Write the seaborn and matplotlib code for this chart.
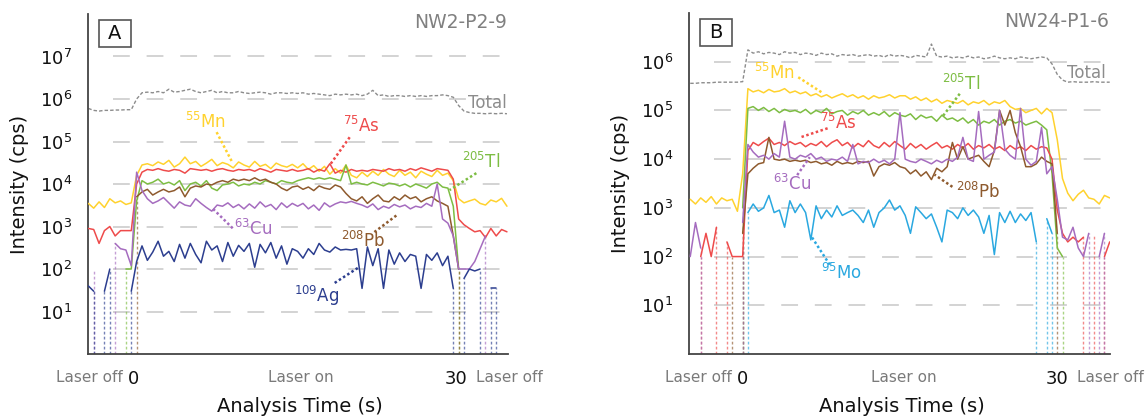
import numpy as np
import pandas as pd
import matplotlib
matplotlib.use("Agg")
import matplotlib.pyplot as plt
from matplotlib.patches import Rectangle
from matplotlib.ticker import NullLocator
import seaborn as sns

sns.set_theme(style="white")
plt.rcParams["font.family"] = ["DejaVu Sans"]
plt.rcParams["mathtext.fontset"] = "dejavusans"

# ---------------------------------------------------------------------------
# Acquisition grids (s): 0.5 s sweeps, laser fires from 0 to 30 s
# ---------------------------------------------------------------------------
STEP = 0.5
time_a = -4.25 + STEP * np.arange(79)
time_b = -5.0 + STEP * np.arange(81)

# ---------------------------------------------------------------------------
# NW2-P2-9 (panel A) – counts per second, 0 = below detection
# ---------------------------------------------------------------------------
total_a = [6.0e5, 5.4e5, 5.2e5, 5.4e5, 5.4e5, 5.5e5, 5.5e5, 5.6e5, 5.6e5,
           1.0e6, 1.4e6, 1.45e6, 1.4e6, 1.5e6, 1.4e6, 1.7e6, 1.45e6, 1.5e6, 1.6e6,
           1.7e6, 1.5e6, 1.4e6, 1.5e6, 1.6e6, 1.4e6, 1.5e6, 1.4e6, 1.4e6, 1.5e6,
           1.4e6, 1.35e6, 1.4e6, 1.45e6, 1.4e6, 1.3e6, 1.4e6, 1.4e6, 1.35e6, 1.4e6,
           1.35e6, 1.4e6, 1.3e6, 1.35e6, 1.3e6, 1.25e6, 1.2e6, 1.3e6, 1.25e6, 1.3e6,
           1.25e6, 1.3e6, 1.2e6, 1.3e6, 1.6e6, 1.2e6, 1.25e6, 1.15e6, 1.2e6, 1.2e6,
           1.15e6, 1.2e6, 1.15e6, 1.2e6, 1.15e6, 1.2e6, 1.2e6, 1.25e6, 1.2e6, 1.1e6,
           7.0e5, 5.2e5, 4.8e5, 4.6e5, 4.6e5, 4.5e5, 4.6e5, 4.5e5, 4.6e5, 4.5e5]
mn_a = [3.5e3, 2.7e3, 3.8e3, 2.8e3, 4.5e3, 3.6e3, 4.0e3, 3.3e3, 3.6e3,
        1.6e4, 2.8e4, 3.0e4, 2.7e4, 3.3e4, 2.9e4, 3.6e4, 2.5e4, 3.0e4, 4.3e4,
        3.0e4, 3.4e4, 2.6e4, 3.1e4, 3.8e4, 2.7e4, 3.2e4, 2.9e4, 2.4e4, 3.3e4,
        2.8e4, 2.5e4, 3.4e4, 2.6e4, 2.9e4, 2.3e4, 3.1e4, 2.7e4, 2.5e4, 2.9e4,
        2.4e4, 3.0e4, 2.2e4, 2.7e4, 2.0e4, 2.6e4, 1.7e4, 2.3e4, 1.8e4, 2.8e4,
        1.6e4, 1.4e4, 1.9e4, 1.5e4, 2.0e4, 1.6e4, 2.2e4, 1.7e4, 1.5e4, 2.1e4,
        1.6e4, 1.9e4, 1.4e4, 2.0e4, 1.7e4, 1.5e4, 2.1e4, 1.6e4, 1.8e4, 1.2e4,
        4.5e3, 3.6e3, 4.0e3, 4.4e3, 3.5e3, 3.2e3, 4.2e3, 3.8e3, 4.6e3, 3.0e3]
as_a = [9.0e2, 8.5e2, 4.0e2, 8.0e2, 1.0e3, 6.0e2, 8.0e2, 8.0e2, 8.0e2,
        1.0e4, 1.9e4, 2.2e4, 2.1e4, 2.3e4, 2.1e4, 2.0e4, 2.2e4, 2.1e4, 1.8e4,
        2.3e4, 2.2e4, 2.1e4, 2.2e4, 2.0e4, 2.2e4, 2.3e4, 2.1e4, 2.0e4, 2.2e4,
        2.1e4, 2.2e4, 2.0e4, 2.3e4, 2.1e4, 1.9e4, 2.2e4, 2.1e4, 2.0e4, 2.2e4,
        2.0e4, 2.1e4, 2.3e4, 1.9e4, 2.2e4, 2.0e4, 3.0e4, 1.8e4, 2.1e4, 1.9e4,
        2.2e4, 2.0e4, 2.1e4, 2.0e4, 2.2e4, 2.1e4, 2.0e4, 2.3e4, 2.1e4, 2.2e4,
        2.0e4, 2.3e4, 2.1e4, 2.4e4, 2.2e4, 2.0e4, 2.3e4, 2.2e4, 2.1e4, 1.3e4,
        1.5e3, 1.1e3, 9.0e2, 7.5e2, 8.0e2, 5.5e2, 9.0e2, 6.0e2, 8.5e2, 7.5e2]
tl_a = [0, 0, 0, 0, 0, 0, 0, 1.0e2, 1.0e2,
        4.0e3, 1.2e4, 1.0e4, 1.1e4, 1.3e4, 1.0e4, 1.1e4, 9.5e3, 1.2e4, 7.0e3,
        1.0e4, 1.1e4, 9.0e3, 1.2e4, 8.0e3, 7.0e3, 9.5e3, 1.0e4, 1.1e4, 9.0e3,
        1.0e4, 9.5e3, 1.1e4, 1.0e4, 1.2e4, 1.1e4, 1.0e4, 1.2e4, 1.1e4, 1.05e4,
        1.2e4, 1.3e4, 1.4e4, 1.3e4, 1.4e4, 1.3e4, 1.4e4, 1.3e4, 1.2e4, 2.8e4,
        1.0e4, 1.1e4, 1.0e4, 9.5e3, 1.1e4, 1.0e4, 9.0e3, 1.05e4, 1.0e4, 9.0e3,
        1.0e4, 8.5e3, 1.0e4, 9.0e3, 8.0e3, 1.0e4, 1.1e4, 8.5e3, 8.0e3, 3.0e3,
        1.0e2, 0, 0, 0, 0, 0, 0, 0, 0, 0]
cu_a = [0, 1.0e2, 0, 0, 0, 4.0e2, 3.0e2, 2.8e2, 1.2e2,
        1.9e4, 7.0e3, 4.5e3, 3.5e3, 4.0e3, 4.8e3, 3.6e3, 2.7e3, 3.8e3, 3.2e3,
        3.0e3, 4.5e3, 3.5e3, 2.8e3, 2.3e3, 3.2e3, 3.0e3, 3.6e3, 2.8e3, 3.3e3,
        2.6e3, 3.4e3, 2.7e3, 3.8e3, 2.9e3, 3.3e3, 2.5e3, 3.6e3, 2.8e3, 3.5e3,
        3.0e3, 3.5e3, 2.6e3, 3.2e3, 2.4e3, 3.6e3, 2.9e3, 3.4e3, 3.8e3, 3.6e3,
        3.9e3, 3.5e3, 3.2e3, 2.8e3, 3.4e3, 2.5e3, 3.0e3, 2.7e3, 3.3e3, 2.9e3,
        3.2e3, 2.6e3, 3.0e3, 2.8e3, 3.5e3, 3.0e3, 1.0e4, 1.5e3, 1.2e3, 6.0e2,
        1.0e2, 1.0e2, 1.0e2, 1.5e2, 3.0e2, 6.0e2, 0, 0, 0, 0]
pb_a = [0, 0, 0, 0, 0, 0, 0, 0, 0,
        5.0e3, 6.5e3, 7.5e3, 5.5e3, 6.5e3, 7.5e3, 6.5e3, 7.0e3, 8.5e3, 5.0e3,
        8.0e3, 9.0e3, 8.5e3, 1.0e4, 9.5e3, 1.1e4, 1.2e4, 1.1e4, 1.3e4, 1.2e4,
        1.3e4, 1.2e4, 1.4e4, 1.2e4, 1.3e4, 1.1e4, 1.0e4, 8.0e3, 7.0e3, 8.5e3,
        9.0e3, 7.5e3, 8.5e3, 7.0e3, 9.0e3, 8.0e3, 7.5e3, 9.5e3, 8.5e3, 6.0e3,
        4.5e3, 4.0e3, 5.0e3, 3.5e3, 4.5e3, 5.5e3, 4.0e3, 3.8e3, 5.0e3, 4.2e3,
        5.5e3, 4.5e3, 5.0e3, 3.8e3, 4.5e3, 5.0e3, 4.0e3, 3.5e3, 3.0e3, 6.0e2,
        1.0e2, 0, 0, 0, 0, 0, 0, 0, 0, 0]
ag_a = [4.0e1, 3.0e1, 0, 3.0e1, 1.0e2, 0, 0, 0, 3.0e1,
        1.5e2, 3.5e2, 1.6e2, 2.5e2, 4.5e2, 2.0e2, 2.6e2, 1.5e2, 3.8e2, 1.8e2,
        4.0e2, 2.2e2, 1.4e2, 4.5e2, 2.8e2, 3.5e2, 1.5e2, 4.2e2, 2.0e2, 3.6e2,
        2.6e2, 4.0e2, 1.1e2, 3.8e2, 2.4e2, 4.2e2, 1.8e2, 3.5e2, 1.3e2, 3.0e2,
        2.6e2, 1.8e2, 3.0e2, 2.2e2, 4.0e2, 2.8e2, 2.5e2, 3.3e2, 2.8e2, 2.9e2,
        2.8e2, 3.0e2, 3.5e1, 3.3e2, 1.2e2, 3.0e2, 3.5e1, 2.8e2, 1.3e2, 2.4e2,
        1.5e2, 2.2e2, 2.0e2, 3.5e1, 2.2e2, 1.6e2, 2.4e2, 1.2e2, 2.0e2, 3.5e1,
        0, 6.0e1, 1.0e2, 9.0e1, 1.0e2, 0, 3.5e1, 3.5e1, 0, 0]

# ---------------------------------------------------------------------------
# NW24-P1-6 (panel B)
# ---------------------------------------------------------------------------
total_b = [3.6e5, 3.6e5, 3.7e5, 3.7e5, 3.7e5, 3.8e5, 3.8e5, 3.8e5, 3.8e5, 3.8e5, 3.9e5,
           1.75e6, 1.5e6, 1.6e6, 1.45e6, 1.55e6, 1.5e6, 1.4e6, 1.6e6, 1.5e6, 1.55e6,
           1.4e6, 1.5e6, 1.45e6, 1.35e6, 1.5e6, 1.4e6, 1.45e6, 1.3e6, 1.4e6, 1.35e6,
           1.4e6, 1.3e6, 1.35e6, 1.4e6, 1.3e6, 1.35e6, 1.25e6, 1.4e6, 1.3e6, 1.35e6,
           1.3e6, 1.2e6, 1.35e6, 1.3e6, 1.25e6, 2.3e6, 1.3e6, 1.25e6, 1.3e6, 1.2e6,
           1.25e6, 1.2e6, 1.3e6, 1.2e6, 1.25e6, 1.15e6, 1.2e6, 1.3e6, 1.2e6, 1.15e6,
           1.2e6, 1.15e6, 1.25e6, 1.2e6, 1.15e6, 1.2e6, 1.25e6, 1.2e6, 9.0e5, 5.5e5,
           4.2e5, 3.8e5, 3.9e5, 3.8e5, 3.8e5, 3.8e5, 3.9e5, 3.8e5, 3.8e5, 3.8e5]
mn_b = [1.5e3, 1.2e3, 1.6e3, 1.3e3, 1.7e3, 1.2e3, 1.6e3, 1.4e3, 1.5e3, 8.5e2, 5.0e3,
        2.8e5, 2.4e5, 2.6e5, 2.3e5, 2.7e5, 2.4e5, 2.5e5, 2.8e5, 2.3e5, 2.5e5,
        2.2e5, 2.4e5, 2.0e5, 2.2e5, 1.9e5, 2.1e5, 1.8e5, 2.0e5, 2.2e5, 1.9e5,
        2.1e5, 1.8e5, 2.0e5, 1.7e5, 2.0e5, 1.8e5, 1.9e5, 2.1e5, 1.8e5, 2.0e5,
        2.0e5, 1.7e5, 1.9e5, 1.6e5, 1.8e5, 1.5e5, 1.7e5, 1.4e5, 1.6e5, 1.5e5,
        1.4e5, 1.6e5, 1.3e5, 1.5e5, 1.4e5, 1.6e5, 1.3e5, 1.5e5, 1.4e5, 1.6e5,
        1.2e5, 1.05e5, 1.1e5, 9.0e4, 1.0e5, 1.1e5, 8.5e4, 1.1e5, 9.0e4, 2.5e4,
        4.0e3, 2.0e3, 1.4e3, 1.9e3, 2.3e3, 1.6e3, 1.5e3, 1.2e3, 1.8e3, 1.6e3]
tl_b = [0, 0, 0, 0, 0, 0, 0, 0, 0, 0, 1.0e3,
        1.1e5, 1.2e5, 1.0e5, 1.15e5, 9.5e4, 1.1e5, 9.0e4, 1.05e5, 9.5e4, 1.0e5,
        9.0e4, 1.05e5, 8.5e4, 1.0e5, 9.0e4, 1.1e5, 8.5e4, 9.5e4, 1.0e5, 8.0e4,
        9.5e4, 8.5e4, 1.0e5, 8.0e4, 9.0e4, 8.0e4, 9.5e4, 7.5e4, 9.0e4, 8.0e4,
        7.5e4, 8.5e4, 6.5e4, 8.0e4, 7.0e4, 7.5e4, 6.0e4, 8.0e4, 6.5e4, 7.0e4,
        6.0e4, 7.0e4, 5.5e4, 6.5e4, 5.0e4, 6.0e4, 5.5e4, 6.5e4, 5.0e4, 6.0e4,
        6.5e4, 5.5e4, 6.0e4, 5.0e4, 5.5e4, 6.0e4, 5.0e4, 4.0e4, 5.0e3, 1.5e2,
        1.0e2, 0, 0, 0, 0, 0, 0, 0, 0, 0]
as_b = [0, 0, 1.0e2, 3.0e2, 1.0e2, 4.0e2, 0, 2.0e2, 1.0e2, 1.0e2, 1.0e2,
        1.5e4, 2.2e4, 1.9e4, 2.3e4, 2.7e4, 2.0e4, 2.2e4, 1.9e4, 2.3e4, 2.0e4,
        2.2e4, 1.8e4, 2.1e4, 1.9e4, 2.3e4, 1.8e4, 2.2e4, 2.5e4, 1.9e4, 2.2e4,
        1.7e4, 2.1e4, 1.8e4, 2.4e4, 1.9e4, 1.7e4, 2.2e4, 1.8e4, 2.3e4, 1.9e4,
        1.6e4, 2.1e4, 1.7e4, 2.0e4, 1.6e4, 1.9e4, 2.2e4, 1.7e4, 1.9e4, 1.6e4,
        2.0e4, 1.7e4, 2.1e4, 1.6e4, 1.9e4, 1.7e4, 2.0e4, 1.6e4, 1.8e4, 1.5e4,
        1.9e4, 1.6e4, 1.8e4, 1.5e4, 1.9e4, 1.6e4, 1.8e4, 1.7e4, 1.0e4, 9.0e2,
        3.0e2, 2.0e2, 2.5e2, 2.0e2, 2.5e2, 0, 2.8e2, 0, 1.0e2, 2.0e2]
cu_b = [1.0e2, 5.0e2, 1.5e2, 0, 0, 0, 0, 0, 0, 0, 5.0e2,
        2.0e4, 1.4e4, 1.1e4, 1.2e4, 1.0e4, 1.3e4, 1.1e4, 6.0e4, 1.1e4, 1.0e4,
        1.2e4, 1.1e4, 1.3e4, 1.0e4, 1.1e4, 9.0e3, 1.0e4, 9.5e3, 1.1e4, 9.0e3,
        2.0e4, 8.0e3, 9.0e3, 8.5e3, 1.0e4, 8.5e3, 9.5e3, 8.0e3, 1.0e4, 9.0e4,
        1.0e4, 9.0e3, 8.5e3, 1.0e4, 9.0e3, 8.0e3, 9.5e3, 8.5e3, 1.0e4, 9.0e3,
        1.1e4, 2.8e4, 1.0e4, 9.0e3, 9.5e4, 1.0e4, 1.2e4, 1.4e4, 1.0e5, 1.6e4,
        1.2e4, 1.0e4, 1.1e5, 1.0e4, 7.5e3, 9.0e3, 4.5e4, 5.0e3, 7.0e3, 1.5e3,
        2.5e2, 2.2e2, 4.0e2, 1.5e2, 1.0e2, 3.0e2, 0, 1.0e2, 3.0e2, 0]
pb_b = [0, 0, 0, 0, 0, 0, 0, 0, 1.0e2, 0, 3.0e2,
        5.0e3, 6.5e3, 8.0e3, 8.5e3, 2.8e4, 1.0e4, 9.5e3, 1.0e4, 9.0e3, 9.5e3,
        9.0e3, 9.5e3, 8.5e3, 9.0e3, 8.0e3, 8.5e3, 7.5e3, 9.0e3, 8.0e3, 8.5e3,
        8.0e3, 9.0e3, 8.5e3, 9.0e3, 4.5e3, 7.0e3, 8.0e3, 7.5e3, 8.5e3, 7.0e3,
        6.5e3, 5.0e3, 6.0e3, 4.5e3, 5.5e3, 3.8e3, 6.5e3, 5.5e3, 7.0e3, 2.2e4,
        1.0e4, 1.8e4, 1.0e4, 1.1e4, 1.2e4, 9.0e3, 7.0e3, 1.5e4, 1.0e5, 5.0e4,
        1.0e5, 3.5e4, 1.8e4, 7.0e3, 7.0e3, 8.0e3, 1.1e4, 9.0e3, 8.0e3, 3.0e2,
        0, 0, 0, 0, 0, 0, 0, 0, 0, 0]
mo_b = [0, 0, 0, 0, 0, 0, 0, 0, 0, 0, 0,
        8.0e2, 1.2e3, 8.5e2, 1.0e3, 1.8e3, 8.0e2, 9.0e2, 4.0e2, 1.4e3, 8.0e2,
        1.2e3, 8.0e2, 2.2e2, 1.1e3, 6.0e2, 9.0e2, 6.5e2, 1.1e3, 7.0e2, 8.0e2,
        9.0e2, 7.0e2, 5.0e2, 9.0e2, 4.0e2, 8.0e2, 1.0e3, 1.45e3, 9.0e2, 1.1e3,
        7.0e2, 3.0e2, 1.05e3, 8.0e2, 6.0e2, 7.5e2, 4.0e2, 2.0e2, 9.0e2, 8.0e2,
        6.0e2, 1.0e3, 7.0e2, 9.0e2, 6.5e2, 3.0e2, 7.0e2, 1.1e2, 8.0e2, 5.0e2,
        8.5e2, 5.0e2, 7.5e2, 5.5e2, 8.0e2, 2.0e2, 0, 6.0e2, 3.0e2, 0,
        0, 0, 0, 0, 0, 0, 0, 0, 0, 0]

ISOTOPE_TEXT = {"Mn": r"$^{55}$Mn", "As": r"$^{75}$As", "Tl": r"$^{205}$Tl",
                "Cu": r"$^{63}$Cu", "Pb": r"$^{208}$Pb", "Ag": r"$^{109}$Ag",
                "Mo": r"$^{95}$Mo", "Total": "Total"}

COLORS = {"Mn": "#FFD22E", "As": "#EE4B4B", "Tl": "#7DBD43", "Cu": "#A56CBF",
          "Pb": "#8E5A2E", "Ag": "#2C3E8F", "Mo": "#2AA8E0", "Total": "#8C8C8C"}

panel_a = {"Mn": mn_a, "As": as_a, "Tl": tl_a, "Pb": pb_a, "Cu": cu_a, "Ag": ag_a}
panel_b = {"Mn": mn_b, "Tl": tl_b, "As": as_b, "Pb": pb_b, "Cu": cu_b, "Mo": mo_b}

# label placement: (text time, text cps, leader start, leader end)
labels_a = {"Mn": (6.7, 2.9e5, (7.7, 1.66e5), (9.2, 3.1e4)),
            "As": (21.2, 2.3e5, (20.1, 1.26e5), (18.25, 2.8e4)),
            "Tl": (32.3, 3.3e4, (31.9, 1.8e4), (29.4, 7.2e3)),
            "Cu": (11.1, 8.7e2, (9.2, 9.1e2), (7.3, 2.7e3)),
            "Pb": (21.4, 4.6e2, (22.4, 7.4e2), (24.5, 1.86e3)),
            "Ag": (17.0, 2.3e1, (18.7, 4.7e1), (21.0, 1.12e2)),
            "Total": (32.9, 7.9e5, None, None)}
labels_b = {"Mn": (3.0, 6.0e5, (5.3, 4.8e5), (7.6, 2.3e5)),
            "As": (9.1, 5.5e4, (8.1, 4.3e4), (5.5, 2.8e4)),
            "Cu": (4.7, 3.1e3, (5.2, 4.7e3), (6.4, 1.1e4)),
            "Tl": (20.8, 3.5e5, (20.7, 2.2e5), (19.0, 7.2e4)),
            "Pb": (22.5, 2.1e3, (20.0, 2.7e3), (18.3, 4.8e3)),
            "Mo": (9.4, 4.7e1, (8.3, 6.8e1), (6.6, 2.5e2)),
            "Total": (32.8, 5.8e5, None, None)}


def long_form(time, series):
    """Long table of detected counts; each run of non-zero sweeps is one unit."""
    rows = []
    for name, values in series.items():
        vals = np.asarray(values, dtype=float)
        run_id = np.cumsum(vals <= 0)
        for t, v, r in zip(time, vals, run_id):
            if v > 0:
                rows.append((name, f"{name}-{r}", t, v))
    return pd.DataFrame(rows, columns=["isotope", "run", "time", "cps"])


def drop_lines(ax, time, values, color):
    """Dotted drops where the signal falls below detection."""
    v = np.asarray(values, dtype=float)
    pos = v > 0
    prev_zero = np.r_[False, ~pos[:-1]]
    next_zero = np.r_[~pos[1:], False]
    edge = pos & (prev_zero | next_zero)
    if edge.any():
        ax.vlines(time[edge], ax.get_ylim()[0], v[edge], colors=color,
                  linestyles=(0, (2.0, 1.6)), lw=1.0, alpha=0.65, zorder=1)


def draw_panel(ax, time, series, total, labels, ymax, xlim, letter, sample,
               laser_on_x):
    ax.set_yscale("log")
    ax.set_xlim(*xlim)
    ax.set_ylim(1, ymax)
    decades = [10.0 ** k for k in range(1, int(round(np.log10(ymax))))]

    for d in decades:
        ax.axhline(d, xmin=0.06, xmax=1.0, color="#c8c8c8", lw=1.1,
                   linestyle=(0, (11, 11)), zorder=0)

    # total ion signal
    tot = pd.DataFrame({"time": time, "cps": total})
    sns.lineplot(data=tot, x="time", y="cps", ax=ax, color=COLORS["Total"],
                 lw=1.0, linestyle=(0, (2.5, 1.5)), zorder=2)

    for name, values in series.items():
        drop_lines(ax, time, values, COLORS[name])

    df = long_form(time, series)
    sns.lineplot(data=df, x="time", y="cps", hue="isotope", units="run",
                 estimator=None, palette=COLORS, hue_order=list(series),
                 legend=False, lw=1.1, ax=ax, zorder=3)

    for name, (tx, ty, p0, p1) in labels.items():
        ax.text(tx, ty, ISOTOPE_TEXT[name], color=COLORS[name], fontsize=12,
                ha="center", va="center", zorder=6)
        if p0 is not None:
            ax.plot([p0[0], p1[0]], [p0[1], p1[1]], color=COLORS[name],
                    lw=1.8, linestyle=(0, (1, 1)), zorder=6)

    ax.set_yticks(decades)
    ax.set_yticklabels([rf"$10^{{{k}}}$" for k in range(1, len(decades) + 1)])
    ax.yaxis.set_minor_locator(NullLocator())
    ax.set_xticks([0, 30])
    ax.set_xticklabels(["0", "30"])
    ax.tick_params(axis="both", direction="inout", length=16, width=1.2,
                   color="#333333", labelsize=13, labelcolor="#111111", pad=3.6)

    for side in ("top", "right"):
        ax.spines[side].set_visible(False)
    for side in ("left", "bottom"):
        ax.spines[side].set_color("#444444")
        ax.spines[side].set_linewidth(1.3)

    ax.set_ylabel("Intensity (cps)", fontsize=14, color="#111111")
    ax.yaxis.set_label_coords(-0.14, 0.5)
    ax.set_xlabel("Analysis Time (s)", fontsize=14, color="#111111")
    ax.xaxis.set_label_coords(0.505, -0.125)

    grey = "#7a7a7a"
    tr = ax.get_xaxis_transform()
    ax.text(-1.0, -0.068, "Laser off", transform=tr, ha="right", va="center",
            fontsize=11, color=grey)
    ax.text(laser_on_x, -0.068, "Laser on", transform=tr, ha="center",
            va="center", fontsize=11, color=grey)
    ax.text(31.85, -0.068, "Laser off", transform=tr, ha="left", va="center",
            fontsize=11, color=grey)

    ax.text(0.997, 0.976, sample, transform=ax.transAxes, ha="right",
            va="center", fontsize=13.5, color="#808080")
    ax.add_patch(Rectangle((0.025, 0.903), 0.077, 0.079, transform=ax.transAxes,
                           facecolor="white", edgecolor="#555555", lw=1.2,
                           zorder=7, clip_on=False))
    ax.text(0.0635, 0.9425, letter, transform=ax.transAxes, ha="center",
            va="center", fontsize=14, color="#111111", zorder=8)


fig = plt.figure(figsize=(11.46, 4.19), dpi=100)
ax_a = fig.add_axes([0.0768, 0.1551, 0.3665, 0.8115])
ax_b = fig.add_axes([0.6012, 0.1551, 0.3674, 0.8139])

draw_panel(ax_a, time_a, panel_a, total_a, labels_a, 1e8, (-4.28, 34.85),
           "A", "NW2-P2-9", 15.5)
draw_panel(ax_b, time_b, panel_b, total_b, labels_b, 1e7, (-5.12, 35.03),
           "B", "NW24-P1-6", 15.4)

fig.savefig("out.png", dpi=100)
